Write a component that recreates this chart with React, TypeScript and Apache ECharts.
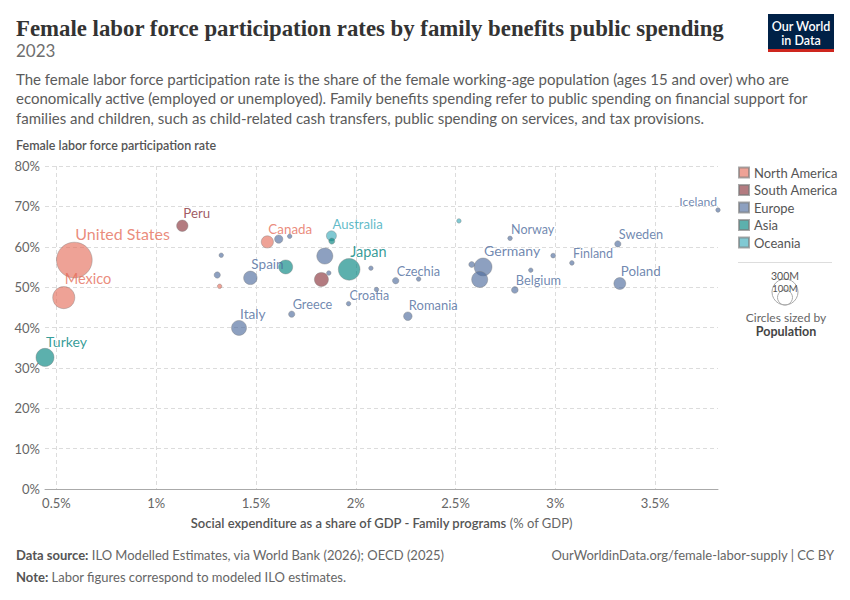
import React, { useEffect, useRef } from "react";
import * as echarts from "echarts";

// ---- Data (2023) ----
const countries = [
  "United States", "Mexico", "Costa Rica", "Canada",
  "Peru", "Colombia",
  "Turkey", "Japan", "South Korea", "Israel",
  "Australia", "New Zealand",
  "United Kingdom", "Spain", "Italy", "Greece", "Croatia", "Czechia", "Romania",
  "Germany", "France", "Austria", "Norway", "Belgium", "Finland", "Sweden",
  "Poland", "Iceland", "Lithuania", "Portugal", "Netherlands", "Estonia",
  "Slovenia", "Ireland", "Luxembourg", "Slovakia", "Latvia", "Denmark",
];
const continentOf = [
  "North America", "North America", "North America", "North America",
  "South America", "South America",
  "Asia", "Asia", "Asia", "Asia",
  "Oceania", "Oceania",
  "Europe", "Europe", "Europe", "Europe", "Europe", "Europe", "Europe",
  "Europe", "Europe", "Europe", "Europe", "Europe", "Europe", "Europe",
  "Europe", "Europe", "Europe", "Europe", "Europe", "Europe",
  "Europe", "Europe", "Europe", "Europe", "Europe", "Europe",
];
// Social expenditure on family programs (% of GDP)
const familySpending = [
  0.59, 0.537, 1.318, 1.557,
  1.131, 1.828,
  0.443, 1.967, 1.649, 1.88,
  1.878, 2.517,
  1.845, 1.472, 1.415, 1.679, 1.964, 2.2, 2.261,
  2.638, 2.621, 2.581, 2.773, 2.797, 3.083, 3.313,
  3.323, 3.815, 1.326, 1.306, 1.614, 1.669,
  1.865, 2.076, 2.104, 2.315, 2.877, 2.989,
];
// Female labor force participation rate (%)
const femaleLFPR = [
  56.7, 47.4, 50.2, 61.2,
  65.2, 51.9,
  32.6, 54.4, 55.0, 61.4,
  62.7, 66.4,
  57.7, 52.3, 39.9, 43.3, 45.9, 51.6, 42.8,
  55.0, 51.9, 55.6, 62.1, 49.3, 56.0, 60.7,
  50.9, 69.1, 57.9, 53.0, 61.9, 62.6,
  53.5, 54.7, 49.4, 52.0, 54.2, 57.8,
];
// Population (millions)
const population = [
  335, 129, 5.2, 39.3,
  34, 52,
  86, 124, 51.7, 9.7,
  26.6, 5.2,
  68, 48, 59, 10.4, 3.9, 10.9, 19,
  84, 68, 9.1, 5.5, 11.8, 5.6, 10.5,
  37, 0.39, 2.8, 10.4, 17.9, 1.4,
  2.1, 5.2, 0.66, 5.4, 1.9, 6.0,
];
const labeledCountries = [
  "United States", "Mexico", "Canada", "Peru", "Turkey", "Japan", "Australia",
  "Spain", "Italy", "Greece", "Croatia", "Czechia", "Romania", "Germany",
  "Norway", "Belgium", "Finland", "Sweden", "Poland", "Iceland",
];
const leftLabeled = ["Iceland"];
const continents = ["North America", "South America", "Europe", "Asia", "Oceania"];
const drawOrder = ["Oceania", "North America", "South America", "Europe", "Asia"];
const continentColors: Record<string, string> = {
  "North America": "#E56E5A",
  "South America": "#883039",
  Europe: "#4C6A9C",
  Asia: "#00847E",
  Oceania: "#38AABA",
};
const xTitle = "Social expenditure as a share of GDP - Family programs";
const xUnit = "(% of GDP)";
const yTitle = "Female labor force participation rate";

const FONT = "Lato, 'Noto Sans', sans-serif";

const sizeOf = (pop: number) => Math.max(4.5, 1.95 * Math.sqrt(pop));
const labelSizeOf = (pop: number) => Math.min(16, Math.max(12, 12 + Math.sqrt(pop) / 4.5));
const withAlpha = (hex: string, a: number) => {
  const n = parseInt(hex.slice(1), 16);
  return `rgba(${(n >> 16) & 255},${(n >> 8) & 255},${n & 255},${a})`;
};

export default function App() {
  const ref = useRef<HTMLDivElement>(null);

  useEffect(() => {
    document.body.style.margin = "0";
    if (!ref.current) return;
    const chart = echarts.init(ref.current, undefined, { renderer: "svg" });

    const series = drawOrder.map((cont) => {
      const idx = countries
        .map((_, i) => i)
        .filter((i) => continentOf[i] === cont)
        .sort((a, b) => population[b] - population[a]);
      const color = continentColors[cont];
      return {
        name: cont,
        type: "scatter",
        symbolSize: (v: number[]) => sizeOf(v[2]),
        itemStyle: {
          color: withAlpha(color, 0.8),
          borderColor: "rgba(120,120,120,0.8)",
          borderWidth: 0.6,
        },
        emphasis: { disabled: true },
        data: idx.map((i) => {
          const show = labeledCountries.includes(countries[i]);
          const left = leftLabeled.includes(countries[i]);
          return {
            name: countries[i],
            value: [familySpending[i], femaleLFPR[i], population[i]],
            label: {
              show,
              formatter: "{b}",
              position: "top",
              distance: 0,
              align: left ? "right" : "left",
              offset: left ? [-1, 0] : [1, 0],
              color,
              fontFamily: FONT,
              fontSize: labelSizeOf(population[i]),
              textBorderWidth: 0,
            },
          };
        }),
      };
    });

    const option = {
      animation: false,
      textStyle: { fontFamily: FONT },
      grid: { left: 45, right: 132, top: 166, bottom: 111 },
      legend: {
        data: continents,
        orient: "vertical",
        left: 738,
        top: 166,
        padding: 0,
        icon: "rect",
        itemWidth: 10,
        itemHeight: 10,
        itemGap: 4.5,
        selectedMode: false,
        textStyle: { fontSize: 13, color: "#555", fontFamily: FONT },
      },
      xAxis: {
        type: "value",
        min: "dataMin",
        max: "dataMax",
        splitNumber: 7,
        name: `{b|${xTitle}} {n|${xUnit}}`,
        nameLocation: "middle",
        nameGap: 27,
        nameTextStyle: {
          rich: {
            b: { fontFamily: FONT, fontSize: 13, fontWeight: 600, color: "#555" },
            n: { fontFamily: FONT, fontSize: 13, color: "#666" },
          },
        },
        axisLine: { show: true, lineStyle: { color: "#aaa" } },
        axisTick: { show: false },
        axisLabel: {
          formatter: (v: number) => `${v}%`,
          color: "#666",
          fontSize: 13,
          margin: 7,
          showMinLabel: false,
          showMaxLabel: false,
        },
        splitLine: {
          show: true,
          showMinLine: false,
          showMaxLine: false,
          lineStyle: { type: [4, 3], color: "#dcdcdc" },
        },
      },
      yAxis: {
        type: "value",
        min: 0,
        max: 80,
        interval: 10,
        axisLine: { show: false },
        axisTick: { show: false },
        axisLabel: { formatter: "{value}%", color: "#666", fontSize: 13, margin: 5 },
        splitLine: { lineStyle: { type: [4, 3], color: "#dcdcdc" } },
      },
      graphic: [
        {
          type: "text",
          left: 16,
          top: 17,
          style: {
            text: "Female labor force participation rates by family benefits public spending",
            fontFamily: "'Liberation Serif', serif",
            fontSize: 22.8,
            fontWeight: 600,
            fill: "#333",
          },
        },
        {
          type: "text",
          left: 16,
          top: 42,
          style: { text: "2023", fontFamily: FONT, fontSize: 17, fill: "#6e6e6e" },
        },
        {
          type: "text",
          left: 16,
          top: 69,
          style: {
            text:
              "The female labor force participation rate is the share of the female working-age population (ages 15 and over) who are\neconomically active (employed or unemployed). Family benefits spending refer to public spending on financial support for\nfamilies and children, such as child-related cash transfers, public spending on services, and tax provisions.",
            fontFamily: FONT,
            fontSize: 15,
            lineHeight: 19.5,
            fill: "#5b5b5b",
          },
        },
        {
          type: "text",
          left: 16,
          top: 139,
          style: { text: yTitle, fontFamily: FONT, fontSize: 12.5, fontWeight: 600, fill: "#555" },
        },
        // Logo
        { type: "rect", shape: { x: 768, y: 14, width: 66, height: 38 }, style: { fill: "#002147" } },
        { type: "rect", shape: { x: 768, y: 49, width: 66, height: 3 }, style: { fill: "#ce261e" } },
        {
          type: "text",
          x: 801,
          y: 26,
          style: {
            text: "Our World",
            fontFamily: FONT,
            fontSize: 12.5,
            fontWeight: 600,
            fill: "#fff",
            textAlign: "center",
            textVerticalAlign: "middle",
          },
        },
        {
          type: "text",
          x: 801,
          y: 40,
          style: {
            text: "in Data",
            fontFamily: FONT,
            fontSize: 12.5,
            fontWeight: 600,
            fill: "#fff",
            textAlign: "center",
            textVerticalAlign: "middle",
          },
        },
        // Size legend
        { type: "line", shape: { x1: 738, y1: 262.5, x2: 832, y2: 262.5 }, style: { stroke: "#ddd", lineWidth: 1 } },
        { type: "circle", shape: { cx: 785, cy: 292, r: 13 }, style: { fill: "none", stroke: "#aaa", lineWidth: 1 } },
        { type: "circle", shape: { cx: 785, cy: 297.5, r: 7.5 }, style: { fill: "none", stroke: "#aaa", lineWidth: 1 } },
        {
          type: "text",
          x: 785,
          y: 276,
          style: { text: "300M", fontFamily: FONT, fontSize: 10.5, fill: "#555", textAlign: "center", textVerticalAlign: "middle" },
        },
        {
          type: "text",
          x: 785,
          y: 288.5,
          style: { text: "100M", fontFamily: FONT, fontSize: 9.5, fill: "#555", textAlign: "center", textVerticalAlign: "middle" },
        },
        {
          type: "text",
          x: 786,
          y: 317,
          style: { text: "Circles sized by", fontFamily: FONT, fontSize: 12, fill: "#666", textAlign: "center", textVerticalAlign: "middle" },
        },
        {
          type: "text",
          x: 786,
          y: 331,
          style: { text: "Population", fontFamily: FONT, fontSize: 12.5, fontWeight: 700, fill: "#444", textAlign: "center", textVerticalAlign: "middle" },
        },
        // Footer
        {
          type: "text",
          x: 16,
          y: 555,
          style: {
            text: "{b|Data source:} ILO Modelled Estimates, via World Bank (2026); OECD (2025)",
            fontFamily: FONT,
            fontSize: 13,
            fill: "#666",
            textVerticalAlign: "middle",
            rich: { b: { fontFamily: FONT, fontSize: 13, fontWeight: 700, fill: "#555" } },
          },
        },
        {
          type: "text",
          x: 834,
          y: 555,
          style: {
            text: "OurWorldinData.org/female-labor-supply | CC BY",
            fontFamily: FONT,
            fontSize: 13,
            fill: "#666",
            textAlign: "right",
            textVerticalAlign: "middle",
          },
        },
        {
          type: "text",
          x: 16,
          y: 577,
          style: {
            text: "{b|Note:} Labor figures correspond to modeled ILO estimates.",
            fontFamily: FONT,
            fontSize: 13,
            fill: "#666",
            textVerticalAlign: "middle",
            rich: { b: { fontFamily: FONT, fontSize: 13, fontWeight: 700, fill: "#555" } },
          },
        },
      ],
      series,
    };

    chart.setOption(option as any);
    return () => chart.dispose();
  }, []);

  return <div ref={ref} style={{ width: 850, height: 600 }} />;
}
